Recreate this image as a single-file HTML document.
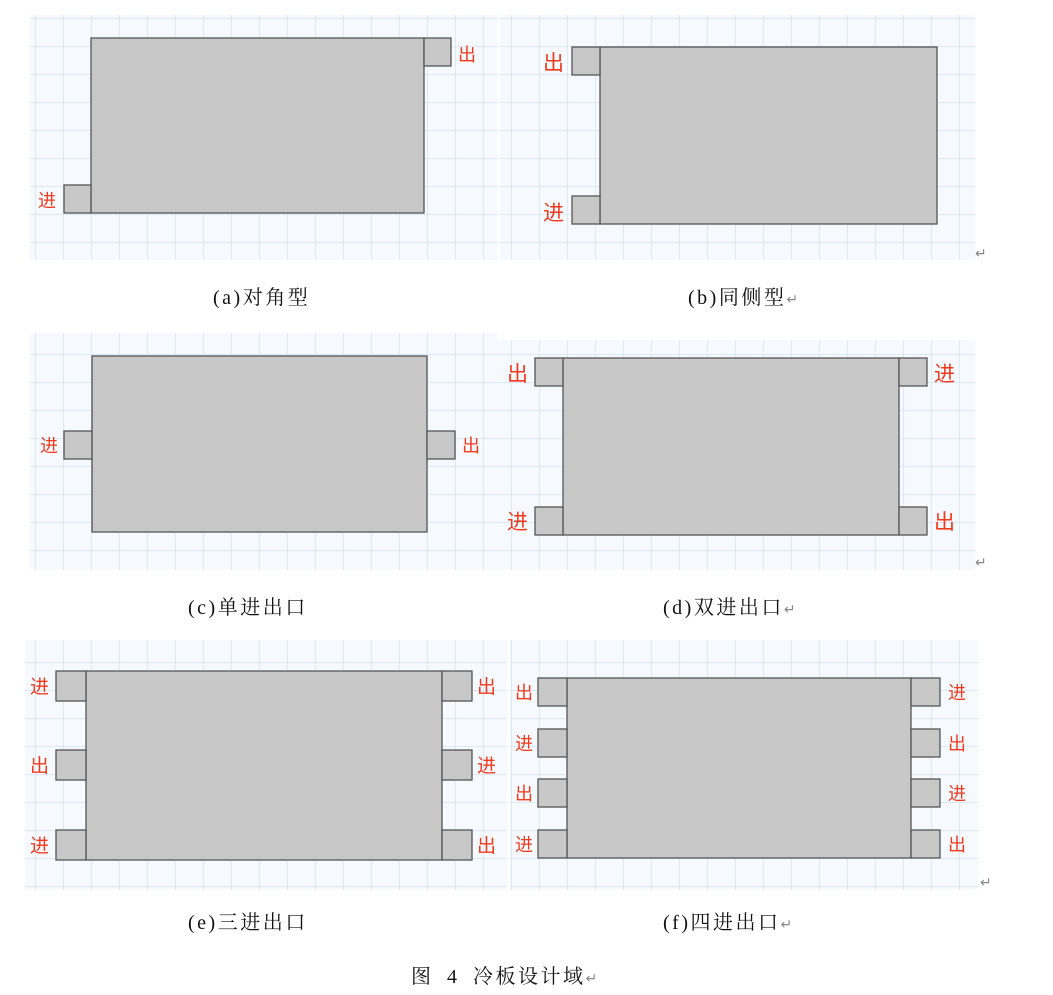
<!DOCTYPE html>
<html><head><meta charset="utf-8"><style>
html,body{margin:0;padding:0;background:#fff;width:1053px;height:995px;overflow:hidden}
svg{display:block}
.cap{font-family:"Liberation Serif","Noto Serif CJK SC",serif;font-size:20px;fill:#111;letter-spacing:2.5px}
.lb{font-family:"Liberation Sans","Noto Sans CJK SC",sans-serif;fill:#f03a1e}
.r{fill:#c8c8c8;stroke:#555;stroke-width:1.3}
.ret{font-family:"Liberation Sans","DejaVu Sans",sans-serif;font-size:14px;fill:#888;letter-spacing:0}
</style></head><body>
<svg width="1053" height="995" viewBox="0 0 1053 995" xmlns="http://www.w3.org/2000/svg">
<defs>
<pattern id="g" x="7" y="18" width="28" height="28" patternUnits="userSpaceOnUse">
<rect width="28" height="28" fill="#f6fafe"/>
<path d="M0 0V28M0 0H28" stroke="#d2e3f3" stroke-width="1.4" fill="none"/>
</pattern>
</defs>
<!-- a -->
<rect x="30" y="15" width="467" height="245" fill="url(#g)"/>
<rect class="r" x="91" y="38" width="333" height="175"/>
<rect class="r" x="424" y="38" width="27" height="28"/>
<rect class="r" x="64" y="185" width="27" height="28"/>
<text class="lb" x="458" y="61" font-size="18">出</text>
<text class="lb" x="38" y="207" font-size="18">进</text>
<!-- b -->
<rect x="500" y="15" width="475" height="245" fill="url(#g)"/>
<rect class="r" x="600" y="47" width="337" height="177"/>
<rect class="r" x="572" y="47" width="28" height="28"/>
<rect class="r" x="572" y="196" width="28" height="28"/>
<text class="lb" x="543" y="70" font-size="21">出</text>
<text class="lb" x="543" y="220" font-size="21">进</text>
<text class="ret" x="975" y="258">↵</text>
<text class="cap" x="213" y="304">(a)对角型</text>
<text class="cap" x="688" y="304">(b)同侧型<tspan class="ret" font-size="16">↵</tspan></text>
<!-- c -->
<rect x="30" y="333" width="467" height="237" fill="url(#g)"/>
<rect class="r" x="92" y="356" width="335" height="176"/>
<rect class="r" x="64" y="431" width="28" height="28"/>
<rect class="r" x="427" y="431" width="28" height="28"/>
<text class="lb" x="40" y="452" font-size="18">进</text>
<text class="lb" x="462" y="452" font-size="18">出</text>
<!-- d -->
<rect x="497" y="340" width="478" height="230" fill="url(#g)"/>
<rect class="r" x="563" y="358" width="336" height="177"/>
<rect class="r" x="535" y="358" width="28" height="28"/>
<rect class="r" x="535" y="507" width="28" height="28"/>
<rect class="r" x="899" y="358" width="28" height="28"/>
<rect class="r" x="899" y="507" width="28" height="28"/>
<text class="lb" x="507" y="381" font-size="21">出</text>
<text class="lb" x="507" y="529" font-size="21">进</text>
<text class="lb" x="934" y="381" font-size="21">进</text>
<text class="lb" x="934" y="529" font-size="21">出</text>
<text class="ret" x="975" y="567">↵</text>
<text class="cap" x="188" y="614">(c)单进出口</text>
<text class="cap" x="663" y="614">(d)双进出口<tspan class="ret" font-size="16">↵</tspan></text>
<!-- e -->
<rect x="25" y="640" width="482" height="250" fill="url(#g)"/>
<rect class="r" x="86" y="671" width="356" height="189"/>
<rect class="r" x="56" y="671" width="30" height="30"/>
<rect class="r" x="56" y="750" width="30" height="30"/>
<rect class="r" x="56" y="830" width="30" height="30"/>
<rect class="r" x="442" y="671" width="30" height="30"/>
<rect class="r" x="442" y="750" width="30" height="30"/>
<rect class="r" x="442" y="830" width="30" height="30"/>
<text class="lb" x="30" y="693" font-size="19">进</text>
<text class="lb" x="30" y="772" font-size="19">出</text>
<text class="lb" x="30" y="852" font-size="19">进</text>
<text class="lb" x="477" y="693" font-size="19">出</text>
<text class="lb" x="477" y="772" font-size="19">进</text>
<text class="lb" x="477" y="852" font-size="19">出</text>
<!-- f -->
<rect x="510" y="640" width="468" height="250" fill="url(#g)"/>
<rect class="r" x="567" y="678" width="344" height="180"/>
<rect class="r" x="538" y="678" width="29" height="28"/>
<rect class="r" x="538" y="729" width="29" height="28"/>
<rect class="r" x="538" y="779" width="29" height="28"/>
<rect class="r" x="538" y="830" width="29" height="28"/>
<rect class="r" x="911" y="678" width="29" height="28"/>
<rect class="r" x="911" y="729" width="29" height="28"/>
<rect class="r" x="911" y="779" width="29" height="28"/>
<rect class="r" x="911" y="830" width="29" height="28"/>
<text class="lb" x="515" y="699" font-size="18">出</text>
<text class="lb" x="515" y="750" font-size="18">进</text>
<text class="lb" x="515" y="800" font-size="18">出</text>
<text class="lb" x="515" y="851" font-size="18">进</text>
<text class="lb" x="948" y="699" font-size="18">进</text>
<text class="lb" x="948" y="750" font-size="18">出</text>
<text class="lb" x="948" y="800" font-size="18">进</text>
<text class="lb" x="948" y="851" font-size="18">出</text>
<text class="ret" x="980" y="887">↵</text>
<text class="cap" x="188" y="929">(e)三进出口</text>
<text class="cap" x="663" y="929">(f)四进出口<tspan class="ret" font-size="16">↵</tspan></text>
<text class="cap" x="411" y="983">图<tspan x="447">4</tspan><tspan x="473">冷板设计域</tspan><tspan class="ret" font-size="16">↵</tspan></text>
</svg>
</body></html>
